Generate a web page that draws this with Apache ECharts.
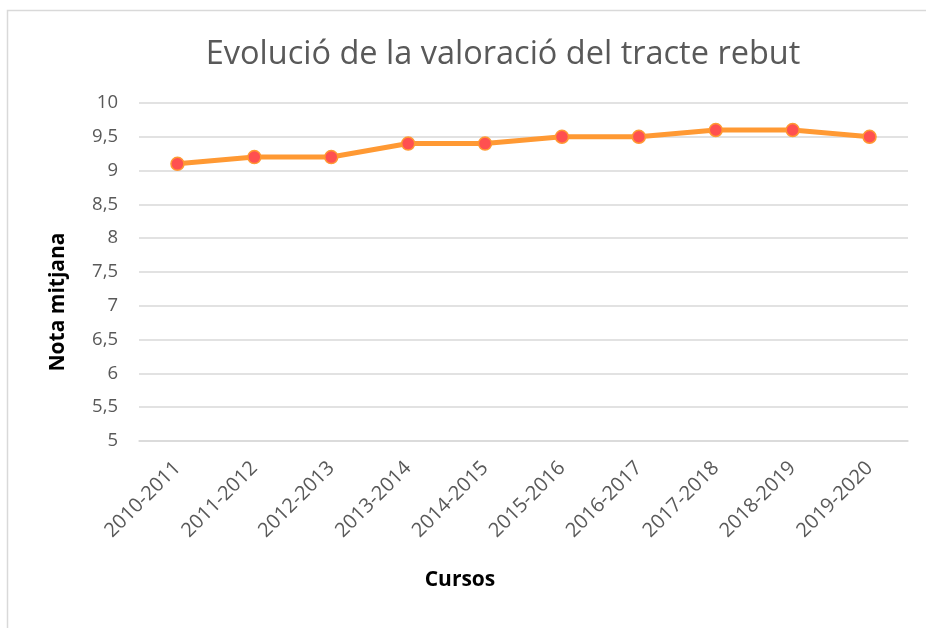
<!DOCTYPE html>
<html><head><meta charset="utf-8">
<script src="https://cdn.jsdelivr.net/npm/echarts@6/dist/echarts.min.js"></script>
<style>html,body{margin:0;padding:0;background:#fff}#c{width:926px;height:628px}</style>
</head><body><div id="c"></div>
<script>
const categories = ['2010-2011','2011-2012','2012-2013','2013-2014','2014-2015','2015-2016','2016-2017','2017-2018','2018-2019','2019-2020'];
const notes = [9.1, 9.2, 9.2, 9.4, 9.4, 9.5, 9.5, 9.6, 9.6, 9.5];
const titleText = 'Evolució de la valoració del tracte rebut';
const yName = 'Nota mitjana';
const xName = 'Cursos';

const chart = echarts.init(document.getElementById('c'), null, {renderer:'canvas'});
const font = '"Open Sans", "Liberation Sans", sans-serif';
chart.setOption({
  backgroundColor:'#fff',
  animation:false,
  title:{text:titleText,left:498,top:33,textAlign:'center',
    textStyle:{fontFamily:font,fontSize:32.5,fontWeight:'normal',color:'#595959'}},
  graphic:[
    {type:'rect',shape:{x:7.5,y:10.5,width:1000,height:700},
      style:{fill:'none',stroke:'#d9d9d9',lineWidth:1.5},silent:true},
    {type:'text',x:58,y:302,rotation:Math.PI/2,
      style:{text:yName,font:'bold 21px '+font,fill:'#000',align:'center',verticalAlign:'middle'}},
    {type:'text',x:460,y:580,
      style:{text:xName,font:'bold 21px '+font,fill:'#000',align:'center',verticalAlign:'middle'}}
  ],
  grid:{left:139,right:18,top:103,bottom:187},
  xAxis:{type:'category',data:categories,boundaryGap:true,
    axisLine:{lineStyle:{color:'#d9d9d9',width:1.5}},axisTick:{show:false},
    axisLabel:{rotate:45,interval:0,margin:24,fontFamily:font,fontSize:20,color:'#595959'}},
  yAxis:{type:'value',min:5,max:10,interval:0.5,
    axisLine:{show:false},axisTick:{show:false},
    axisLabel:{margin:21,fontFamily:font,fontSize:18.5,color:'#595959',
      formatter:v=>String(v).replace('.',',')},
    splitLine:{lineStyle:{color:'#d9d9d9',width:1.5}}},
  series:[{type:'line',data:notes,symbol:'circle',symbolSize:13,
    lineStyle:{color:'#FF9933',width:5},
    itemStyle:{color:'#FF5050',borderColor:'#FF9933',borderWidth:1.5}}]
});
</script></body></html>
